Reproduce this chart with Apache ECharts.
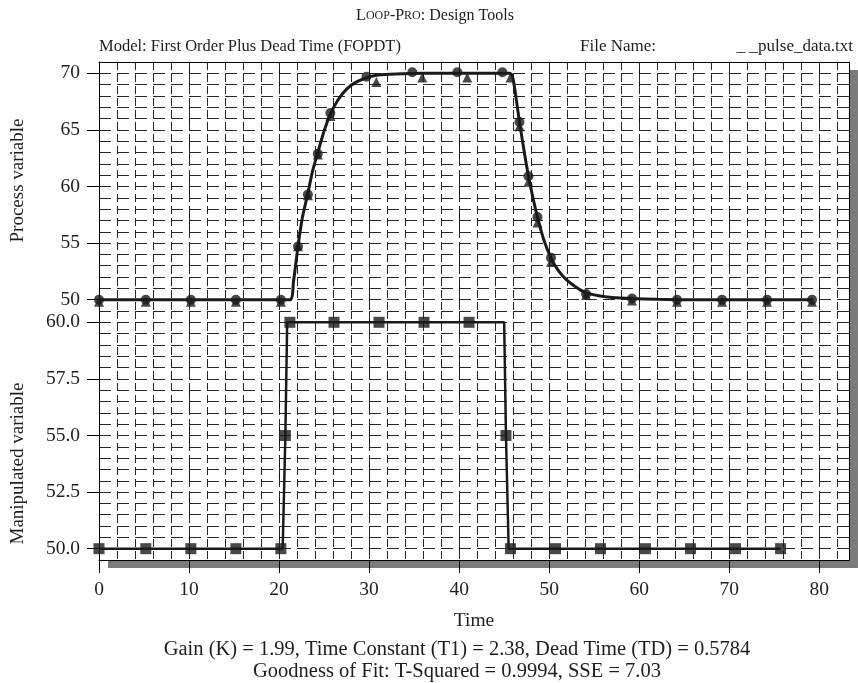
<!DOCTYPE html>
<html>
<head>
<meta charset="utf-8">
<script src="https://cdn.jsdelivr.net/npm/echarts@6/dist/echarts.min.js"></script>
<style>
html, body { margin: 0; padding: 0; background: #fff; }
#main { width: 858px; height: 683px; }
</style>
</head>
<body>
<div id="main"></div>
<script>
// 过程变量 - 模型拟合曲线
var pvFitTime = [0, 21.2, 21.6, 22.1, 22.6, 23.2, 23.7, 24.3, 25.0, 25.7, 26.5, 27.5, 28.5, 29.7, 31.0, 33.0, 36.0, 45.6, 45.9, 46.2, 46.7, 47.2, 47.7, 48.2, 48.7, 49.4, 50.2, 51.0, 52.0, 53.0, 54.1, 55.5, 57.0, 59.2, 62.0, 65.0, 79.2];
var pvFitValue = [50, 50, 51.6, 54.7, 57.3, 59.4, 61.3, 63.0, 64.9, 66.4, 67.6, 68.6, 69.2, 69.6, 69.85, 69.95, 70.0, 70.0, 69.8, 68.5, 65.7, 63.2, 60.9, 59.0, 57.3, 55.3, 53.7, 52.6, 51.7, 51.1, 50.6, 50.35, 50.2, 50.1, 50.04, 50.0, 50.0];
// 过程变量 - 测量点(圆)
var pvDotTime = [0, 5.2, 10.2, 15.2, 20.2, 22.1, 23.2, 24.3, 25.7, 29.7, 34.8, 39.8, 44.8, 46.7, 47.7, 48.7, 50.2, 54.1, 59.2, 64.2, 69.2, 74.2, 79.2];
var pvDotValue = [50, 50, 50, 50, 50, 54.7, 59.3, 62.9, 66.5, 69.7, 70.1, 70.1, 70.1, 65.7, 60.9, 57.3, 53.7, 50.5, 50.1, 50, 50, 50, 50];
// 过程变量 - 模型点(三角)
var pvTriTime = [0, 5.2, 10.2, 15.2, 20.2, 22.1, 23.2, 24.3, 25.7, 30.8, 35.9, 40.9, 45.7, 46.7, 47.7, 48.7, 50.2, 54.1, 59.2, 64.2, 69.2, 74.2, 79.2];
var pvTriValue = [50, 50, 50, 50, 50, 54.9, 59.4, 63.0, 66.4, 69.4, 69.8, 69.8, 69.8, 65.5, 60.6, 57.0, 53.5, 50.6, 50.1, 50, 50, 50, 50];
// 操作变量 - 折线
var mvLineTime = [0, 20.4, 20.7, 20.9, 45.0, 45.2, 45.5, 75.7];
var mvLineValue = [50, 50, 55, 60, 60, 55, 50, 50];
// 操作变量 - 方块点
var mvDotTime = [0, 5.2, 10.2, 15.2, 20.2, 20.7, 21.2, 26.1, 31.1, 36.1, 41.1, 45.2, 45.7, 50.7, 55.7, 60.7, 65.7, 70.7, 75.7];
var mvDotValue = [50, 50, 50, 50, 50, 55, 60, 60, 60, 60, 60, 55, 50, 50, 50, 50, 50, 50, 50];
// 刻度
var timeTicks = [0, 10, 20, 30, 40, 50, 60, 70, 80];
var pvTicks = [50, 55, 60, 65, 70];
var mvTicks = [50, 52.5, 55, 57.5, 60];

function pairs(t, v) {
    var arr = [];
    for (var i = 0; i < t.length; i++) arr.push([t[i], v[i]]);
    return arr;
}

var FONT = 'Liberation Serif';
var INK = '#1e1e1e';
var X_MAX = 83.3;

var minorH = { color: '#262626', width: 1, type: [12, 6] };
var minorV = { color: '#262626', width: 1, type: [8, 4] };
var majorV = { color: '#111', width: 1, type: [14, 4] };
var txt = function (size) {
    return { fontFamily: FONT, fontSize: size, fontWeight: 'normal', color: INK };
};

var myChart = echarts.init(document.getElementById('main'));
var option = {
    backgroundColor: '#fff',
    animation: false,
    title: [
        {
            text: '{a|L}{b|OOP}{a|-P}{b|RO}{a|: Design Tools}',
            left: 430, top: 3, textAlign: 'center',
            textStyle: {
                rich: {
                    a: { fontFamily: FONT, fontSize: 16, fontWeight: 'normal', color: INK },
                    b: { fontFamily: FONT, fontSize: 12, fontWeight: 'normal', color: INK }
                }
            }
        },
        { text: 'Model: First Order Plus Dead Time (FOPDT)', left: 94, top: 33, textStyle: txt(16.5) },
        { text: 'File Name:', left: 575, top: 33, textStyle: txt(17) },
        { text: '_ _pulse_data.txt', right: 0, top: 33, textStyle: txt(17) },
        { text: 'Gain (K) = 1.99, Time Constant (T1) = 2.38, Dead Time (TD) = 0.5784', left: 452, top: 634, textAlign: 'center', textStyle: txt(20.5) },
        { text: 'Goodness of Fit: T-Squared = 0.9994, SSE = 7.03', left: 452, top: 656, textAlign: 'center', textStyle: txt(20.5) }
    ],
    grid: [
        { left: 99, right: 9, top: 62, height: 249, show: true, backgroundColor: '#fff', borderWidth: 0, shadowColor: '#7b7b7b', shadowBlur: 0, shadowOffsetX: 9, shadowOffsetY: 8 },
        { left: 99, right: 9, top: 311, height: 249, show: true, backgroundColor: '#fff', borderWidth: 0, shadowColor: '#7b7b7b', shadowBlur: 0, shadowOffsetX: 9, shadowOffsetY: 8 }
    ],
    xAxis: [
        {   // 上图 顶边框 + 主竖线
            gridIndex: 0, type: 'value', position: 'top', min: 0, max: X_MAX, interval: 10,
            axisLine: { show: true, onZero: false, lineStyle: { color: '#000', width: 1 } },
            axisTick: { show: false }, axisLabel: { show: false },
            splitLine: { show: true, lineStyle: majorV }
        },
        {   // 上图 次竖线
            gridIndex: 0, type: 'value', position: 'bottom', min: 0, max: X_MAX, interval: 2,
            axisLine: { show: false }, axisTick: { show: false }, axisLabel: { show: false },
            splitLine: { show: true, lineStyle: minorV }
        },
        {   // 下图 时间轴
            gridIndex: 1, type: 'value', position: 'bottom', min: 0, max: X_MAX, interval: 10,
            name: 'Time', nameLocation: 'middle', nameGap: 51,
            nameTextStyle: txt(19.5),
            axisLine: { show: true, onZero: false, lineStyle: { color: '#000', width: 1 } },
            axisTick: { show: true, inside: false, length: 13, customValues: timeTicks, lineStyle: { color: '#000' } },
            axisLabel: { show: true, margin: 20, customValues: timeTicks, fontFamily: FONT, fontSize: 19.5, color: INK },
            splitLine: { show: true, lineStyle: majorV }
        },
        {   // 下图 次竖线
            gridIndex: 1, type: 'value', position: 'top', min: 0, max: X_MAX, interval: 2,
            axisLine: { show: false }, axisTick: { show: false }, axisLabel: { show: false },
            splitLine: { show: true, lineStyle: minorV }
        }
    ],
    yAxis: [
        {
            gridIndex: 0, type: 'value', position: 'left', min: 49, max: 71,
            name: 'Process variable', nameLocation: 'middle', nameGap: 71,
            nameTextStyle: Object.assign(txt(19), { padding: [0, 0, 0, 12] }),
            axisLine: { show: true, onZero: false, lineStyle: { color: '#000', width: 1 } },
            axisTick: { show: true, inside: false, length: 12, customValues: pvTicks, lineStyle: { color: '#000' } },
            axisLabel: { show: true, margin: 19, customValues: pvTicks, fontFamily: FONT, fontSize: 19.5, color: INK },
            splitLine: { show: false }
        },
        {
            gridIndex: 0, type: 'value', position: 'right', min: 49, max: 71, interval: 1,
            axisLine: { show: true, onZero: false, lineStyle: { color: '#000', width: 1 } },
            axisTick: { show: false }, axisLabel: { show: false },
            splitLine: { show: true, lineStyle: minorH }
        },
        {
            gridIndex: 1, type: 'value', position: 'left', min: 49.5, max: 60.5,
            name: 'Manipulated variable', nameLocation: 'middle', nameGap: 71,
            nameTextStyle: Object.assign(txt(19), { padding: [0, 56, 0, 0] }),
            axisLine: { show: true, onZero: false, lineStyle: { color: '#000', width: 1 } },
            axisTick: { show: true, inside: false, length: 12, customValues: mvTicks, lineStyle: { color: '#000' } },
            axisLabel: {
                show: true, margin: 19, customValues: mvTicks, fontFamily: FONT, fontSize: 19.5, color: INK,
                formatter: function (v) { return Number(v).toFixed(1); }
            },
            splitLine: { show: false }
        },
        {
            gridIndex: 1, type: 'value', position: 'right', min: 49.5, max: 60.5, interval: 0.5,
            axisLine: { show: true, onZero: false, lineStyle: { color: '#000', width: 1 } },
            axisTick: { show: false }, axisLabel: { show: false },
            splitLine: { show: true, lineStyle: minorH }
        }
    ],
    series: [
        {
            name: 'PV fit', type: 'line', xAxisIndex: 0, yAxisIndex: 0,
            data: pairs(pvFitTime, pvFitValue), showSymbol: false, smooth: 0.2,
            lineStyle: { color: '#1a1a1a', width: 3 }, z: 5
        },
        {
            name: 'PV model', type: 'scatter', xAxisIndex: 0, yAxisIndex: 0,
            data: pairs(pvTriTime, pvTriValue), symbol: 'triangle', symbolSize: 10, symbolOffset: [0, 2],
            itemStyle: { color: '#1a1a1a' }, z: 6
        },
        {
            name: 'PV data', type: 'scatter', xAxisIndex: 0, yAxisIndex: 0,
            data: pairs(pvDotTime, pvDotValue), symbol: 'circle', symbolSize: 10,
            itemStyle: { color: '#1a1a1a' }, z: 7
        },
        {
            name: 'MV', type: 'line', xAxisIndex: 2, yAxisIndex: 2,
            data: pairs(mvLineTime, mvLineValue), showSymbol: false,
            lineStyle: { color: '#1a1a1a', width: 2.5 }, z: 5
        },
        {
            name: 'MV data', type: 'scatter', xAxisIndex: 2, yAxisIndex: 2,
            data: pairs(mvDotTime, mvDotValue), symbol: 'rect', symbolSize: 11,
            itemStyle: { color: '#1a1a1a' }, z: 6
        }
    ]
};
if (option && typeof option === "object") {
    myChart.setOption(option, true);
}
</script>
</body>
</html>
